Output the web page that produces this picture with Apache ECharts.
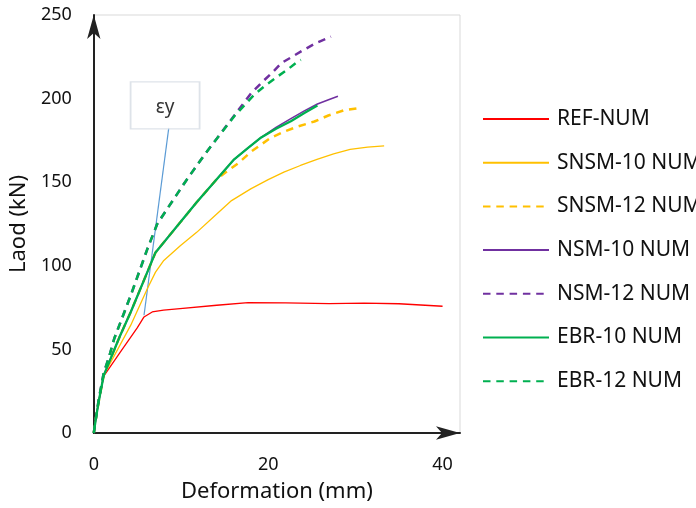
<!DOCTYPE html>
<html>
<head>
<meta charset="utf-8">
<script src="https://cdn.jsdelivr.net/npm/echarts@6/dist/echarts.min.js"></script>
<style>html,body{margin:0;padding:0;background:#fff;}#c{width:696px;height:508px;}</style>
</head>
<body>
<div id="c"></div>
<script>
// ---- data (Deformation mm, Load kN) ----
const refX   = [0,0.25,0.57,1.14,3,5,5.76,6.7,8,9.9,14.1,17.7,22,27,31,35,40];
const refY   = [0,9,19,34,48,63,69.4,72.4,73.5,74.4,76.4,78,77.8,77.4,77.7,77.3,75.8];

const snsm10X = [0,0.25,0.57,1.14,4.24,6.14,7.08,8.03,9.92,11.8,14.1,15.8,18,20,21.8,23.7,25.6,27.5,29.4,31.4,33.3];
const snsm10Y = [0,9,19,34.5,64.5,86.3,96.2,103.2,112,120,131,139,146,151.5,156,160,163.7,167,169.6,171,171.7];

const snsm12X = [0,0.25,0.57,1.14,3,4.24,6.14,7.08,8.5,9.92,11.8,14.1,15.1,16.6,18.1,20.3,21.9,23.4,25.3,26.9,28.7,30.5];
const snsm12Y = [0,9,19,34.5,58,72.4,96.2,108,117,126,138,151.8,155.8,161.5,168.5,176.6,180.4,183.3,186.3,189.9,193,194.4];

const nsm10X = [0,0.25,0.57,1.14,3,4.24,6.14,7.08,8.5,9.92,11.8,14.1,16.1,17.7,19.2,20.9,22.6,24.2,25.65,27,28];
const nsm10Y = [0,9,19,34.5,58,72.4,96.2,108,117,126,138,151.8,163.7,170.5,176.8,182.8,188,192.8,196.8,199.5,201.4];

const nsm12X = [0,0.25,0.57,1.14,1.7,2.35,4.24,6.14,7.27,9.17,10.7,12.6,13.8,16.2,18.07,19.4,20.5,21.5,22.8,24.1,25.45,26.8,27.2];
const nsm12Y = [0,9,20,36,44.6,56.5,82.3,110,125,139.9,151.8,165.7,174,190.5,203.4,210.3,215.7,221.2,225.2,229.2,233.1,236.1,237];

const ebr10X = [0,0.25,0.57,1.14,3,4.24,6.14,7.08,8.5,9.92,11.8,14.1,16.1,17.7,19.2,20.9,22.6,24.2,25.65];
const ebr10Y = [0,9,19,34.5,58,72.4,96.2,108,117,126,138,151.8,163.7,170.5,176.8,182,186.5,191.5,195.8];

const ebr12X = [0,0.25,0.57,1.14,1.7,2.35,4.24,6.14,7.27,9.17,10.7,12.6,13.8,16.2,18.4,19.8,21.1,22.2,23.4,23.75];
const ebr12Y = [0,9,20,36,44.6,56.5,82.3,110,125,139.9,151.8,165.7,174,190,202.4,208.3,213.3,217.3,222.2,223.2];

// εy callout: leader line end points and label box centre (data units)
const eyLineX = [5.76, 8.6];
const eyLineY = [70.4, 182.5];
const eyBox = [8.18, 196];
const eyText = 'εy';

const seriesNames = ['REF-NUM','SNSM-10 NUM','SNSM-12 NUM','NSM-10 NUM','NSM-12 NUM','EBR-10 NUM','EBR-12 NUM'];
const xTicks = {min: 0, max: 42, interval: 20};
const yTicks = {min: 0, max: 250, interval: 50};

// ---- chart ----
const zip = (xs, ys) => xs.map((x, i) => [x, ys[i]]);
const FONT = 'Noto Sans';
const mk = (name, xs, ys, color, width, dashed) => ({
  name, type: 'line', data: zip(xs, ys), symbol: 'none', showSymbol: false,
  smooth: false, animation: false, silent: true,
  lineStyle: { color, width, type: dashed ? [7.5, 5.8] : 'solid', cap: 'butt' },
  itemStyle: { color }
});

const chart = echarts.init(document.getElementById('c'), null, {renderer: 'canvas'});
chart.setOption({
  animation: false,
  backgroundColor: '#ffffff',
  grid: { left: 91, top: 15, width: 369, height: 420, show: true, borderColor: '#d9d9d9', borderWidth: 1, backgroundColor: 'transparent' },
  xAxis: {
    type: 'value', min: xTicks.min, max: xTicks.max, interval: xTicks.interval,
    name: 'Deformation (mm)', nameLocation: 'middle', nameGap: 48,
    nameTextStyle: { fontFamily: FONT, fontSize: 22, color: '#111' },
    axisLine: { show: true, onZero: false, symbol: ['none', 'arrow'], symbolSize: [10, 24], lineStyle: { color: '#222', width: 2 } },
    axisTick: { show: false },
    splitLine: { show: false },
    axisLabel: { fontFamily: FONT, fontSize: 18, color: '#111', margin: 23, showMaxLabel: false }
  },
  yAxis: {
    type: 'value', min: yTicks.min, max: yTicks.max, interval: yTicks.interval,
    name: 'Laod (kN)', nameLocation: 'middle', nameGap: 57,
    nameTextStyle: { fontFamily: FONT, fontSize: 22, color: '#111' },
    axisLine: { show: true, onZero: false, symbol: ['none', 'arrow'], symbolSize: [10, 24], lineStyle: { color: '#222', width: 2 } },
    axisTick: { show: false },
    splitLine: { show: false },
    axisLabel: { fontFamily: FONT, fontSize: 18, color: '#111', margin: 22 }
  },
  legend: {
    data: seriesNames,
    orient: 'vertical', left: 482, top: 108, padding: 0,
    itemWidth: 66, itemHeight: 2, itemGap: 21.7,
    itemStyle: { opacity: 0, borderWidth: 0 },
    textStyle: { fontFamily: FONT, fontSize: 21, color: '#111', lineHeight: 22, padding: [0, 0, 0, 3] },
    selectedMode: false
  },
  series: [
    { name: 'eyLeader', type: 'line', data: zip(eyLineX, eyLineY), symbol: 'none', silent: true,
      lineStyle: { color: '#5b9bd5', width: 1.2 }, z: 1 },
    mk(seriesNames[0], refX, refY, '#ff0000', 1.3, false),
    mk(seriesNames[1], snsm10X, snsm10Y, '#ffc000', 1.3, false),
    mk(seriesNames[2], snsm12X, snsm12Y, '#ffc000', 2.5, true),
    mk(seriesNames[3], nsm10X, nsm10Y, '#7030a0', 1.6, false),
    mk(seriesNames[4], nsm12X, nsm12Y, '#7030a0', 2.5, true),
    mk(seriesNames[5], ebr10X, ebr10Y, '#00b050', 2.3, false),
    mk(seriesNames[6], ebr12X, ebr12Y, '#00b050', 2.5, true),
    { name: 'eyBox', type: 'scatter', data: [eyBox], symbol: 'rect', symbolSize: [69, 47], silent: true, z: 5,
      itemStyle: { color: '#ffffff', borderColor: '#d6dce4', borderWidth: 1.5 },
      label: { show: true, position: 'inside', formatter: eyText, fontFamily: FONT, fontSize: 19, color: '#000',
               textBorderWidth: 0, offset: [0, 2] } }
  ]
});
</script>
</body>
</html>
